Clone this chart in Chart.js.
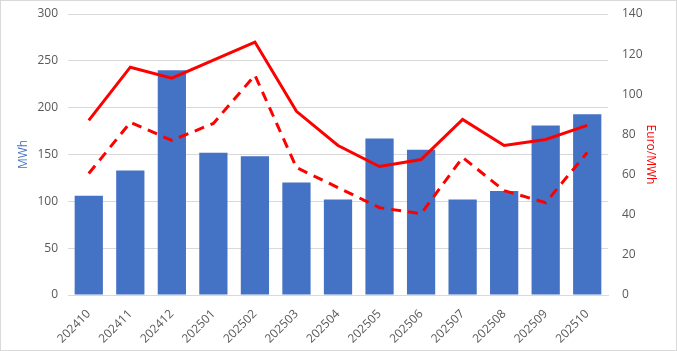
<!DOCTYPE html>
<html>
<head>
<meta charset="utf-8">
<script src="https://cdn.jsdelivr.net/npm/chart.js@4"></script>
<style>
  html, body { margin: 0; padding: 0; background: #fff; }
  #wrap { width: 675px; height: 349px; border: 1px solid #d9d9d9; }
</style>
</head>
<body>
<div id="wrap"><canvas id="myChart"></canvas></div>
<script>
const months = ['202410', '202411', '202412', '202501', '202502', '202503', '202504',
    '202505', '202506', '202507', '202508', '202509', '202510'];
const energyMWh = [106, 133, 240, 152, 148, 120, 102, 167, 155, 102, 111, 181, 193];
const priceSolid = [87, 113.5, 108, 117, 126, 91.5, 74.5, 64, 67.5, 87.5, 74.5, 77.5, 84.5];
const priceDashed = [60.5, 86, 77, 85.5, 109.5, 63.5, 53.5, 43.5, 40.5, 68.5, 52, 46, 71];

const tickFont = { family: 'Open Sans', size: 12 };

// fixed axis box sizes so the plot area lands where the original one is
function fitSide(scale) {
    scale.width = 52;
    scale.paddingTop = 13;
    scale.paddingBottom = 0;
}

const config = {
    type: 'bar',
    data: {
        labels: months,
        datasets: [
            {
                type: 'line',
                label: 'Price',
                data: priceSolid,
                yAxisID: 'y1',
                borderColor: '#ff0000',
                borderWidth: 3,
                pointRadius: 0,
                tension: 0,
                order: 1
            },
            {
                type: 'line',
                label: 'Price (dashed)',
                data: priceDashed,
                yAxisID: 'y1',
                borderColor: '#ff0000',
                borderWidth: 3,
                borderDash: [10, 7],
                pointRadius: 0,
                tension: 0,
                order: 2
            },
            {
                label: 'MWh',
                data: energyMWh,
                yAxisID: 'y',
                backgroundColor: '#4472c4',
                categoryPercentage: 1,
                barPercentage: 0.68,
                order: 3
            }
        ]
    },
    options: {
        responsive: true,
        maintainAspectRatio: false,
        animation: false,
        layout: { padding: { top: 0, right: 16, left: 15, bottom: 0 } },
        plugins: {
            legend: { display: false },
            tooltip: { enabled: false }
        },
        scales: {
            x: {
                grid: { display: false },
                border: { color: '#d9d9d9' },
                ticks: { color: '#595959', font: tickFont, maxRotation: 45, minRotation: 45, padding: 4 },
                afterFit: scale => { scale.height = 55; }
            },
            y: {
                position: 'left',
                min: 0, max: 300,
                ticks: { stepSize: 50, color: '#595959', font: tickFont, padding: 10 },
                grid: { color: '#d9d9d9', drawTicks: false },
                border: { display: false },
                title: { display: true, text: 'MWh', color: '#4472c4', font: { family: 'Open Sans', size: 12 }, padding: 0 },
                afterFit: fitSide
            },
            y1: {
                position: 'right',
                min: 0, max: 140,
                ticks: { stepSize: 20, color: '#595959', font: tickFont, padding: 14 },
                grid: { display: false, drawTicks: false },
                border: { display: false },
                title: { display: true, text: 'Euro/MWh', color: '#ff0000', font: { family: 'Open Sans', size: 12 }, padding: 2 },
                afterFit: fitSide
            }
        }
    }
};

const ctx = document.getElementById('myChart');
const myChart = new Chart(ctx, config);
</script>
</body>
</html>
